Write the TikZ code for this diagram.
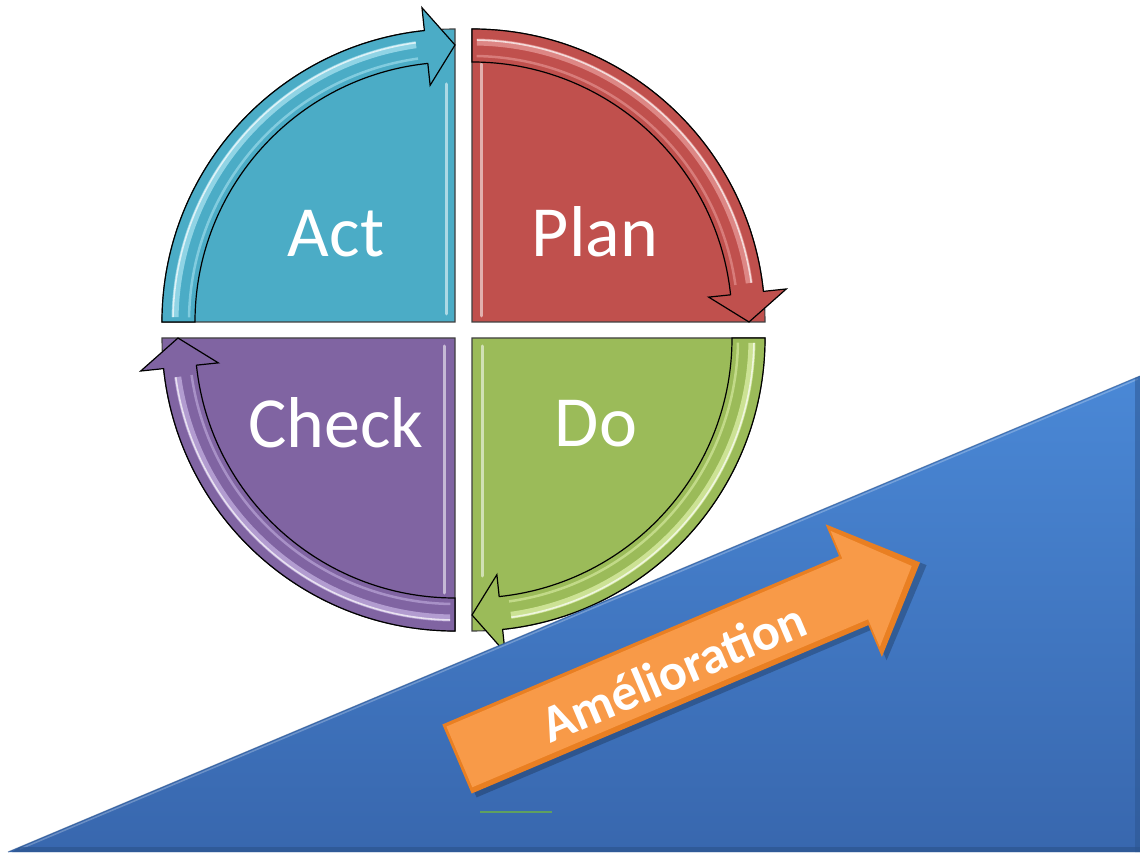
\documentclass[tikz,border=0pt]{standalone}
\usepackage{fontspec}
\setmainfont{Carlito}
\usetikzlibrary{calc}
\definecolor{actc}{HTML}{4BACC6}
\definecolor{actl}{HTML}{A8E2F0}
\definecolor{planc}{HTML}{C0504D}
\definecolor{planl}{HTML}{E89A98}
\definecolor{checkc}{HTML}{8064A2}
\definecolor{checkl}{HTML}{C4B0E0}
\definecolor{doc}{HTML}{9BBB59}
\definecolor{dol}{HTML}{DDF0A8}
\definecolor{blueT}{HTML}{4A88D6}
\definecolor{blueB}{HTML}{3867AE}
\definecolor{blueD}{HTML}{2C558F}
\definecolor{orgD}{HTML}{E97F22}
\definecolor{orgL}{HTML}{F89A48}
\definecolor{lineG}{HTML}{5FA060}
\newcommand\pdcaarrow[4]{%
  \pgfmathsetmacro\pdcaEnd{#2-84}%
  \pgfmathsetmacro\pdcaTip{#2-90}%
  \pgfmathsetmacro\pdcaSa{#2-1}%
  \pgfmathsetmacro\pdcaEb{#2-82}%
  \begin{scope}[shift={(#1)}]
    \filldraw[arrline, fill=#3] (#2:293) arc[start angle=#2, end angle=\pdcaEnd, radius=293]
      -- (\pdcaEnd:316) -- (\pdcaTip:277) -- (\pdcaEnd:238) -- (\pdcaEnd:260)
      arc[start angle=\pdcaEnd, end angle=#2, radius=260] -- cycle;
    \draw[#4, line width=7, opacity=.75] (\pdcaSa:280) arc[start angle=\pdcaSa, end angle=\pdcaEb, radius=280];
    \draw[white, line width=1.6, opacity=.7] (\pdcaSa:282) arc[start angle=\pdcaSa, end angle=\pdcaEb, radius=282];
    \draw[#4, line width=2.5, opacity=.6] (\pdcaSa:266) arc[start angle=\pdcaSa, end angle=\pdcaEb, radius=266];
  \end{scope}}
\tikzset{
  pie/.style={draw=black!75, line width=1.1},
  arrline/.style={draw=black, line width=1.2, line join=miter},
  qlabel/.style={text=white, font=\fontsize{72}{80}\selectfont, anchor=base, inner sep=0},
  edgelight/.style={white, line width=3, opacity=.55, line cap=round}
}
\begin{document}
\begin{tikzpicture}[x=1pt,y=1pt]
\useasboundingbox (0,0) rectangle (1140,852);
\fill[white] (0,0) rectangle (1140,852);

\coordinate (cA) at (455,530);
\coordinate (cP) at (472,530);
\coordinate (cC) at (455,514);
\coordinate (cD) at (472,514);

% pies
\filldraw[pie, fill=actc] (cA) -- ++(180:293) arc[start angle=180, end angle=90, radius=293] -- cycle;
\filldraw[pie, fill=planc] (cP) -- ++(90:293) arc[start angle=90, end angle=0, radius=293] -- cycle;
\filldraw[pie, fill=doc] (cD) -- ++(0:293) arc[start angle=0, end angle=-90, radius=293] -- cycle;
\filldraw[pie, fill=checkc] (cC) -- ++(270:293) arc[start angle=270, end angle=180, radius=293] -- cycle;

% inner edge highlights
\draw[edgelight] ($(cA)+(-9,8)$) -- ($(cA)+(-9,238)$);
\draw[edgelight] ($(cP)+(9,6)$) -- ($(cP)+(9,258)$);
\draw[edgelight] ($(cC)+(-11,-8)$) -- ($(cC)+(-11,-255)$);
\draw[edgelight] ($(cD)+(10,-8)$) -- ($(cD)+(10,-238)$);

% curved arrows
\pdcaarrow{cA}{180}{actc}{actl}
\pdcaarrow{cP}{90}{planc}{planl}
\pdcaarrow{cD}{0}{doc}{dol}
\pdcaarrow{cC}{270}{checkc}{checkl}

% labels
\node[qlabel] (act) at (336,595) {Act};
\node[qlabel] (plan) at (595,595) {Plan};
\node[qlabel] (check) at (336,404) {Check};
\node[qlabel] (do) at (596,405) {Do};

% blue triangle
\shade[top color=blueT, bottom color=blueB] (8,0) -- (1140,476) -- (1140,0) -- cycle;
\draw[blueD, line width=1, opacity=.6] (8,0) -- (1140,476);
\draw[white, line width=1.5, opacity=.25] (20,3) -- (1138,473);
\fill[blueD, opacity=.7] (12,0) -- (1140,0) -- (1140,5) -- (20,5) -- cycle;
\fill[blueD, opacity=.5] (1135,0) -- (1140,0) -- (1140,476) -- (1135,474) -- cycle;

% stray green line
\draw[lineG, line width=1.3] (480,40) -- (552,40);

% orange arrow
\begin{scope}[shift={(457,93)}, rotate=23]
  \fill[black, opacity=.22] (3,-43) -- (434,-43) -- (434,-77) -- (508,-5) -- (434,67) -- (434,32) -- (3,32) -- cycle;
  \fill[orgD] (0,-37.5) -- (431,-37.5) -- (431,-72) -- (503,0) -- (431,72) -- (431,37.5) -- (0,37.5) -- cycle;
  \fill[orgL] (3,-32) -- (433,-32) -- (433,-62) -- (494,0) -- (433,64) -- (433,34) -- (3,34) -- cycle;
  \node[text=white, rotate=23, font=\fontsize{52}{56}\selectfont\bfseries, inner sep=0] (amel) at (233,-4) {Amélioration};
\end{scope}
\end{tikzpicture}
\end{document}
